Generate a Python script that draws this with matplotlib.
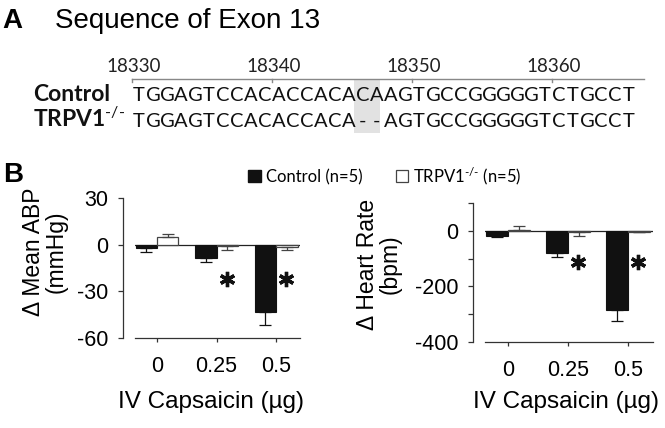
import matplotlib
matplotlib.use("Agg")
import matplotlib.pyplot as plt
from matplotlib.patches import Patch, Rectangle
import numpy as np

# ---- panel A : exon 13 sequence ----
seq_start = 18330
ruler_ticks = [18330, 18340, 18350, 18360]
seq_control = "TGGAGTCCACACCACACAAGTGCCGGGGGTCTGCCT"
seq_ko = "TGGAGTCCACACCACA--AGTGCCGGGGGTCTGCCT"
deleted = [16, 17]

# ---- panel B : responses to IV capsaicin ----
doses = ["0", "0.25", "0.5"]
abp_ctrl = [-2.2, -8.6, -43.5]
abp_ctrl_err = [2.2, 2.6, 8.0]
abp_ko = [4.7, -1.0, -1.6]
abp_ko_err = [2.4, 2.2, 1.6]
hr_ctrl = [-17, -80, -284]
hr_ctrl_err = [6, 15, 39]
hr_ko = [2, -3, -3]
hr_ko_err = [16, 17, 2]
signif = [False, True, True]

plt.rcParams['font.family'] = ['Liberation Sans', 'DejaVu Sans']
plt.rcParams['mathtext.fontset'] = 'custom'
plt.rcParams['mathtext.rm'] = 'Lato'
plt.rcParams['mathtext.bf'] = 'Lato:bold'
plt.rcParams['mathtext.it'] = 'Lato:italic'

W, H = 665, 428
fig = plt.figure(figsize=(W / 100, H / 100), dpi=100)


def box(x0, y0, x1, y1):
    return [x0 / W, 1 - y1 / H, (x1 - x0) / W, (y1 - y0) / H]


# ---------------- A ----------------
fig.text(2 / W, 1 - 28 / H, "A", fontsize=20, fontweight='bold', va='baseline')
fig.text(55 / W, 1 - 28 / H, "Sequence of Exon 13", fontsize=20, va='baseline')

axA = fig.add_axes(box(0, 0, W, 140))
axA.set_xlim(seq_start - 132 / 14, seq_start + (W - 132) / 14)
axA.set_ylim((140 - 93) / 26, -93 / 26)
axA.axis('off')

ruler_y = -0.54
axA.plot([seq_start, seq_start + 36.6], [ruler_y, ruler_y], color='#888', lw=1)
for t in ruler_ticks:
    axA.plot([t, t], [ruler_y, ruler_y + 0.12], color='#888', lw=1)
    axA.text(t + 0.15, -0.81, str(t), ha='center', va='baseline', fontsize=13.5,
             family='Lato', color='#222')

axA.add_patch(Rectangle((seq_start + deleted[0] - 0.15, -0.55), len(deleted) - 0.15, 2.07,
                        color='#e2e2e2', zorder=0, lw=0))

for row, seq in enumerate([seq_control, seq_ko]):
    for i, c in enumerate(seq):
        axA.text(seq_start + i + 0.5, row + 0.31, c, ha='center', va='baseline',
                 fontsize=14.5, family='Lato', color='#111')

lab_x = seq_start + (33 - 132) / 14
axA.text(lab_x, 0.31, "Control", ha='left', va='baseline', fontsize=16.5,
         family='Lato', fontweight='bold', color='#111')
axA.text(lab_x, 1.31, r"TRPV1$^{\text{-/-}}$", ha='left', va='baseline', fontsize=16.5,
         family='Lato', fontweight='bold', color='#111')

# ---------------- B ----------------
fig.text(3 / W, 1 - 182 / H, "B", fontsize=20, fontweight='bold', va='baseline')

handles = [Patch(facecolor='#111', edgecolor='#111'),
           Patch(facecolor='white', edgecolor='#444', lw=0.9)]
fig.legend(handles, ["Control (n=5)", r"TRPV1$^{\text{-/-}}$ (n=5)"], ncol=2, loc='center',
           bbox_to_anchor=(385 / W, 1 - 176 / H), frameon=False,
           handlelength=0.75, handleheight=0.75, handletextpad=0.3,
           columnspacing=2.0, prop={'family': 'Lato', 'size': 12})


def panel(ax, ctrl, ctrl_err, ko, ko_err, ylim, yticks, ylabels, ylabel, star_y):
    x = np.arange(len(doses))
    w = 0.36
    ctrl = np.array(ctrl, float)
    ko = np.array(ko, float)
    ax.axhline(0, color='#222', lw=0.9, zorder=1)
    ax.bar(x - w / 2, ctrl, w, color='#111', edgecolor='#111', lw=0.8, zorder=2)
    ax.bar(x + w / 2, ko, w, color='white', edgecolor='#444', lw=0.9, zorder=2)
    for xs, v, e, col in [(x - w / 2, ctrl, ctrl_err, '#111'), (x + w / 2, ko, ko_err, '#444')]:
        e = np.array(e, float)
        lo = np.where(v < 0, e, 0)
        hi = np.where(v >= 0, e, 0)
        ax.errorbar(xs, v, yerr=[lo, hi], fmt='none', ecolor=col, elinewidth=0.9,
                    capsize=4.5, capthick=0.9, zorder=3)
    sig = np.array(signif)
    ax.plot(x[sig] + 0.17, [star_y] * sig.sum(), ls='none', marker=(6, 2, 0),
            ms=11, mew=2.4, color='#111')

    ax.set_ylim(*ylim)
    ax.set_yticks(yticks)
    ax.set_yticklabels(ylabels)
    ax.set_xticks(x)
    ax.set_xticklabels(doses)
    for s in ['top', 'right']:
        ax.spines[s].set_visible(False)
    ax.spines['left'].set_position(('outward', 8.6))
    for s in ['left', 'bottom']:
        ax.spines[s].set_color('#333')
        ax.spines[s].set_linewidth(0.9)
    ax.tick_params(axis='y', direction='out', length=3.6, width=0.9, pad=7,
                   labelsize=15.5, color='#333')
    ax.tick_params(axis='x', direction='out', length=3, width=0.9, pad=10,
                   labelsize=15.5, color='#333')
    ax.set_ylabel(ylabel, fontsize=16.5, linespacing=1.0)
    ax.set_xlabel("IV Capsaicin (µg)", fontsize=17.5)
    ax.xaxis.label.set_va('center')
    ax.yaxis.label.set_va('center')


axL = fig.add_axes(box(135, 198, 300, 338))
axL.set_xlim(-0.37, 2.4)
panel(axL, abp_ctrl, abp_ctrl_err, abp_ko, abp_ko_err, (-60, 30),
      [-60, -30, 0, 30], ["-60", "-30", "0", "30"], "Δ Mean ABP\n(mmHg)", -22)
axL.yaxis.set_label_coords((45 - 135) / 165, (338 - 252) / 140)
axL.xaxis.set_label_coords((211 - 135) / 165, -(402 - 338) / 140)

axR = fig.add_axes(box(485, 203, 653, 342))
axR.set_xlim(-0.383, 2.417)
panel(axR, hr_ctrl, hr_ctrl_err, hr_ko, hr_ko_err, (-400, 100),
      [-400, -300, -200, -100, 0, 100], ["-400", "", "-200", "", "0", ""],
      "Δ Heart Rate\n(bpm)", -112)
axR.yaxis.set_label_coords((379 - 485) / 168, (342 - 264) / 139)
axR.xaxis.set_label_coords((566 - 485) / 168, -(402 - 342) / 139)

fig.savefig("out.png", dpi=100)
